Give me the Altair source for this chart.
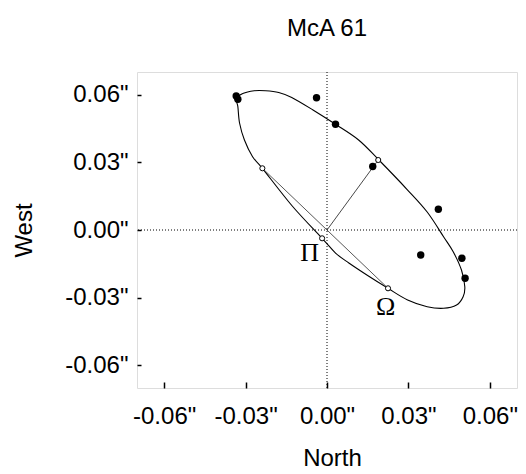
import altair as alt
import pandas as pd

# ---- data ----
# orbit ellipse (apparent orbit)
ell_x = [-0.03338, -0.03103, -0.02681, -0.02262, -0.01779, -0.01299, -0.00516, 0.00314,
         0.01165, 0.01912, 0.02970, 0.03691, 0.04294, 0.04655, 0.04954, 0.05077,
         0.05015, 0.04774, 0.04294, 0.03691, 0.02970, 0.02248, 0.01526, 0.00805,
         0.00325, -0.00180, -0.01281, -0.02381, -0.02742, -0.03042, -0.03222, -0.03284]
ell_y = [0.05804, 0.06048, 0.06172, 0.06172, 0.06092, 0.05871, 0.05317, 0.04683,
         0.03988, 0.03101, 0.01772, 0.00797, -0.00297, -0.00975, -0.01772, -0.02512,
         -0.02955, -0.03323, -0.03469, -0.03398, -0.03101, -0.02583, -0.02038, -0.01462,
         -0.01032, -0.00368, 0.01063, 0.02734, 0.03248, 0.03988, 0.04741, 0.05463]

# observations (filled dots)
obs_x = [-0.03345, -0.03284, -0.00386, 0.00314, 0.01685, 0.04103, 0.03453, 0.04969, 0.05088]
obs_y = [0.05937, 0.05791, 0.05862, 0.04683, 0.02813, 0.00917, -0.01108, -0.01254, -0.02140]

# special points (open circles): node A, radius end B, periastron, ascending node
open_x = [-0.02381, 0.01887, -0.00180, 0.02248]
open_y = [0.02734, 0.03101, -0.00368, -0.02583]

# line of nodes and radius line
nodes_x = [-0.02381, 0.02248]
nodes_y = [0.02734, -0.02583]
rad_x = [0.0, 0.01887]
rad_y = [0.0, 0.03101]

# symbol labels
sym_text = ["\u03a0", "\u03a9"]
sym_x = [-0.00639, 0.02165]
sym_y = [-0.01032, -0.03398]

tick_vals = [-0.06, -0.03, 0.0, 0.03, 0.06]
dom = [-0.07, 0.07]

FONT = "Liberation Sans"
label_expr = "(datum.value < 0 ? '-' : '') + format(abs(datum.value), '.2f') + '\"'"

xs = alt.Scale(domain=dom, nice=False, zero=False)
ys = alt.Scale(domain=dom, nice=False, zero=False)

x_axis = alt.Axis(values=tick_vals, labelExpr=label_expr, title="North", grid=False,
                  domain=False, offset=-6, tickSize=6, tickWidth=1.5, tickColor="black",
                  labelPadding=16, labelFont=FONT, labelFontSize=24, labelColor="black",
                  titleFont=FONT, titleFontSize=24, titleFontWeight="normal",
                  titleColor="black", titleX=195, titleY=83, titleBaseline="alphabetic",
                  titleAlign="center")
y_axis = alt.Axis(values=tick_vals, labelExpr=label_expr, title="West", grid=False,
                  domain=False, offset=-4, tickSize=4, tickWidth=1.5, tickColor="black",
                  labelPadding=9, labelFont=FONT, labelFontSize=24, labelColor="black",
                  titleFont=FONT, titleFontSize=24, titleFontWeight="normal",
                  titleColor="black", titleX=-117, titleY=158, titleAngle=270,
                  titleBaseline="middle", titleAlign="center")

df_ell = pd.DataFrame({"x": ell_x, "y": ell_y, "i": list(range(len(ell_x)))})
df_obs = pd.DataFrame({"x": obs_x, "y": obs_y})
df_open = pd.DataFrame({"x": open_x, "y": open_y})
df_nodes = pd.DataFrame({"x": nodes_x, "y": nodes_y, "i": [0, 1]})
df_rad = pd.DataFrame({"x": rad_x, "y": rad_y, "i": [0, 1]})
df_sym = pd.DataFrame({"x": sym_x, "y": sym_y, "t": sym_text})
df_zero = pd.DataFrame({"v": [0.0]})

zero_v = alt.Chart(df_zero).mark_rule(color="black", strokeWidth=1, strokeDash=[1, 2]).encode(
    x=alt.X("v:Q", scale=xs, axis=x_axis))
zero_h = alt.Chart(df_zero).mark_rule(color="black", strokeWidth=1, strokeDash=[1, 2]).encode(
    y=alt.Y("v:Q", scale=ys, axis=y_axis))

ellipse = alt.Chart(df_ell).mark_line(color="black", strokeWidth=1.1,
                                      interpolate="cardinal-closed").encode(
    x=alt.X("x:Q", scale=xs, axis=x_axis), y=alt.Y("y:Q", scale=ys, axis=y_axis), order="i:O")

nodes = alt.Chart(df_nodes).mark_line(color="#444444", strokeWidth=0.9).encode(
    x=alt.X("x:Q", scale=xs), y=alt.Y("y:Q", scale=ys), order="i:O")
rad = alt.Chart(df_rad).mark_line(color="#333333", strokeWidth=0.9).encode(
    x=alt.X("x:Q", scale=xs), y=alt.Y("y:Q", scale=ys), order="i:O")

obs = alt.Chart(df_obs).mark_point(shape="circle", filled=True, color="black", size=55,
                                   opacity=1).encode(
    x=alt.X("x:Q", scale=xs), y=alt.Y("y:Q", scale=ys))

opens = alt.Chart(df_open).mark_point(shape="circle", filled=True, fill="white",
                                      stroke="black", strokeWidth=1, size=26,
                                      opacity=1).encode(
    x=alt.X("x:Q", scale=xs), y=alt.Y("y:Q", scale=ys))

syms = alt.Chart(df_sym).mark_text(font="Liberation Serif", fontSize=26, color="black",
                                   baseline="middle", align="center").encode(
    x=alt.X("x:Q", scale=xs), y=alt.Y("y:Q", scale=ys), text="t:N")

chart = alt.layer(zero_v, zero_h, ellipse, nodes, rad, opens, obs, syms).properties(
    width=380, height=316,
    autosize=alt.AutoSizeParams(type="none"),
    padding={"left": 129, "top": 64, "right": 1, "bottom": 86},
    title=alt.TitleParams("McA 61", font=FONT, fontSize=24, fontWeight="normal",
                          color="black", anchor="middle", baseline="alphabetic",
                          offset=12),
).configure_view(stroke="black", strokeWidth=1.5).configure(background="white")

chart.save("out.html", embed_options={"renderer": "svg", "actions": False})
